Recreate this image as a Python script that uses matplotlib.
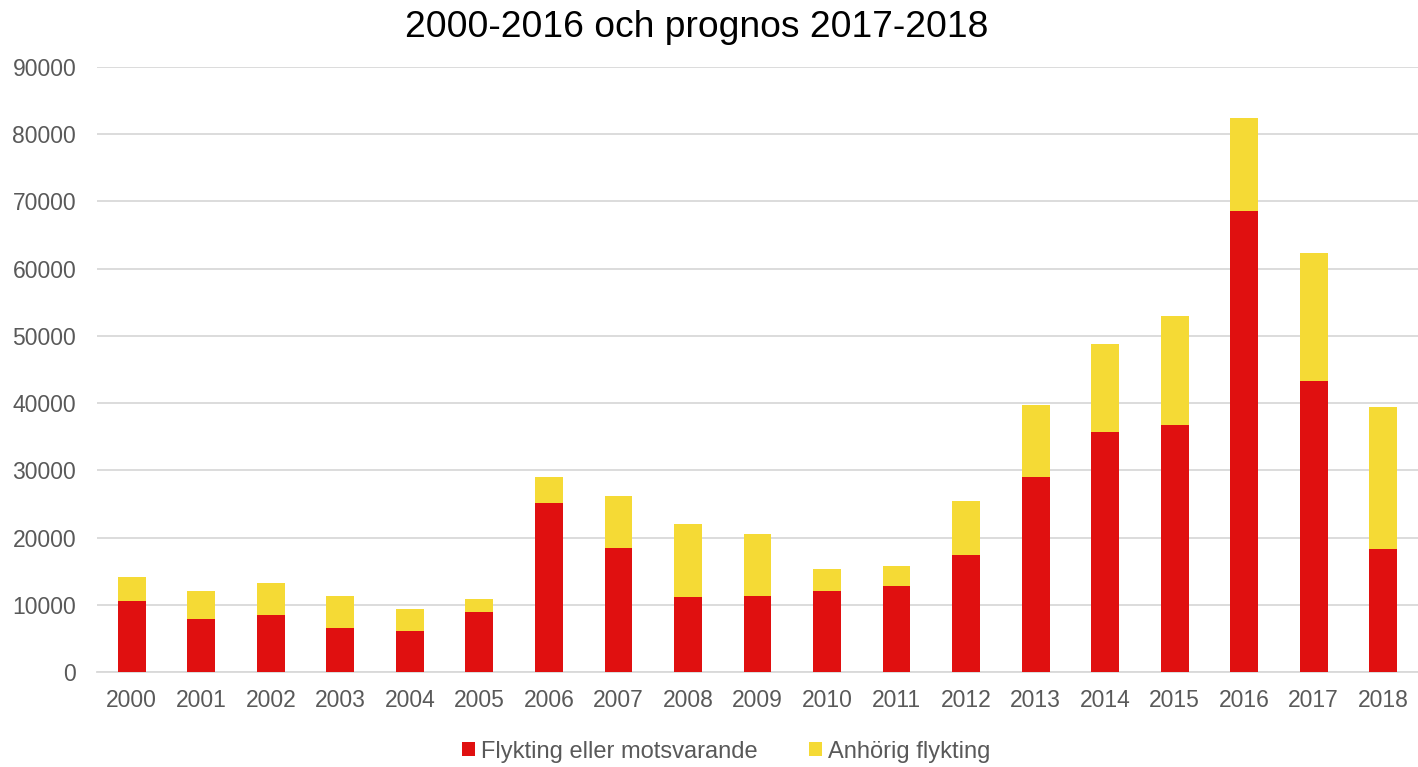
import numpy as np
import matplotlib.pyplot as plt

plt.rcParams['font.family'] = ['Liberation Sans', 'DejaVu Sans']

years = ['2000', '2001', '2002', '2003', '2004', '2005', '2006', '2007', '2008', '2009',
         '2010', '2011', '2012', '2013', '2014', '2015', '2016', '2017', '2018']
flykting = [10600, 7900, 8500, 6500, 6100, 8900, 25100, 18450, 11200, 11300,
            12100, 12800, 17400, 29000, 35700, 36700, 68600, 43300, 18300]
anhorig = [3500, 4150, 4700, 4800, 3250, 1950, 3900, 7700, 10800, 9200,
           3200, 3000, 8000, 10700, 13100, 16200, 13800, 19000, 21100]

red = '#E01010'
yellow = '#F5DA35'
grey = '#595959'

fig = plt.figure(figsize=(14.18, 7.67), dpi=100)
ax = fig.add_axes([97 / 1418, 1 - 672 / 767, (1418 - 97) / 1418, (672 - 67) / 767])

x = np.arange(len(years))
ax.bar(x, flykting, width=0.4, color=red, label='Flykting eller motsvarande', zorder=3)
ax.bar(x, anhorig, width=0.4, bottom=flykting, color=yellow, label='Anhörig flykting', zorder=3)

ax.set_xlim(-0.5, len(years) - 0.5)
ax.set_ylim(0, 90000)
ax.set_yticks(np.arange(0, 90001, 10000))
ax.set_xticks(x)
ax.set_xticklabels(years)
ax.yaxis.grid(True, color='#D9D9D9', linewidth=1.3, zorder=0)
ax.set_axisbelow(True)
for s in ['top', 'right', 'left']:
    ax.spines[s].set_visible(False)
ax.spines['bottom'].set_color('#D9D9D9')
ax.spines['bottom'].set_linewidth(1.3)
ax.tick_params(axis='both', length=0, labelsize=16.5, colors=grey)
ax.tick_params(axis='y', pad=15)
ax.tick_params(axis='x', pad=12)

fig.text(0.4915, 0.964, '2000-2016 och prognos 2017-2018', ha='center', va='center',
         fontsize=26.8, color='black')

leg = fig.legend(loc='center', bbox_to_anchor=(0.512, 0.02), ncol=2, frameon=False,
                 fontsize=17, handlelength=0.55, handleheight=0.55, handletextpad=0.25,
                 columnspacing=2.2)
for t in leg.get_texts():
    t.set_color(grey)

fig.savefig('out.png', dpi=100)
